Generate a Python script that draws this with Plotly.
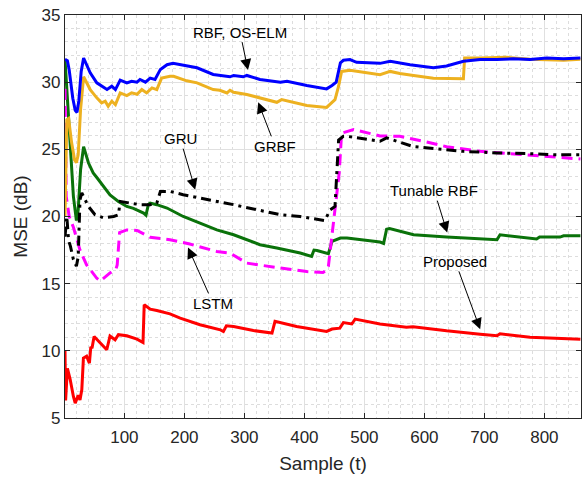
import plotly.graph_objects as go

# MSE (dB) versus sample index for each method
t_rbf = [1, 5, 8, 14, 18, 21, 24, 28, 32, 38, 43, 54, 62, 71, 79, 85, 93, 104, 112, 121, 126, 135,
         143, 151, 160, 171, 181, 193, 221, 248, 265, 276, 282, 298, 304, 326, 360, 371, 404, 437,
         446, 453, 460, 465, 476, 487, 526, 543, 576, 615, 637, 665, 693, 721, 748, 776, 804, 832, 860]
mse_rbf = [31.7, 31.6, 30.9, 28.8, 27.9, 27.75, 28.6, 30.8, 31.8, 31.2, 30.7, 29.95, 29.7, 29.45,
           29.7, 29.45, 30.15, 29.95, 30.07, 30.0, 30.2, 30.0, 30.3, 30.2, 30.95, 31.3, 31.4, 31.3,
           31.07, 30.57, 30.5, 30.4, 30.5, 30.4, 30.5, 30.2, 30.0, 30.07, 29.75, 29.5, 29.75, 30.0,
           31.44, 31.63, 31.68, 31.48, 31.4, 31.56, 31.3, 31.07, 31.2, 31.56, 31.68, 31.68, 31.74,
           31.68, 31.8, 31.74, 31.8]

t_grbf = [1, 2, 4, 7, 12, 17, 20, 23, 27, 32, 37, 43, 54, 62, 68, 73, 79, 85, 93, 104, 112, 121,
          129, 137, 146, 154, 162, 176, 182, 204, 221, 248, 259, 271, 276, 282, 304, 326, 354, 362,
          382, 404, 437, 446, 451, 457, 462, 476, 526, 543, 559, 582, 615, 665, 667, 693, 737, 776,
          832, 860]
mse_grbf = [20.0, 22.8, 27.2, 27.3, 25.5, 24.2, 24.0, 24.6, 28.0, 30.4, 30.0, 29.45, 28.83, 28.46,
            28.58, 28.2, 28.58, 28.33, 29.2, 29.0, 29.2, 29.1, 29.45, 29.2, 29.57, 29.45, 30.3,
            30.44, 30.44, 30.1, 29.95, 29.45, 29.4, 29.2, 29.4, 29.25, 29.08, 28.83, 28.5, 28.7,
            28.5, 28.26, 28.12, 28.5, 28.7, 29.7, 30.8, 30.89, 30.55, 30.8, 30.64, 30.5, 30.3,
            30.25, 31.8, 31.8, 31.85, 31.7, 31.63, 31.7]

t_tunable = [1, 5, 10, 15, 20, 23, 27, 32, 40, 48, 54, 65, 76, 90, 104, 115, 132, 136, 140, 143,
             154, 171, 198, 226, 254, 282, 310, 326, 354, 393, 412, 416, 421, 437, 440, 446, 460,
             471, 526, 532, 537, 542, 582, 637, 693, 721, 726, 787, 792, 826, 832, 860]
mse_tunable = [31.7, 28.5, 24.5, 21.5, 19.7, 20.5, 23.5, 25.2, 24.0, 23.24, 22.9, 22.24, 21.6,
               21.12, 20.75, 20.6, 20.26, 20.1, 20.9, 21.0, 20.88, 20.63, 20.0, 19.5, 19.0, 18.64,
               18.15, 17.9, 17.65, 17.28, 17.03, 17.5, 17.47, 17.28, 17.23, 18.15, 18.4, 18.4, 18.1,
               18.0, 19.05, 19.1, 18.64, 18.47, 18.32, 18.27, 18.64, 18.32, 18.47, 18.47, 18.56,
               18.56]

t_lstm = [1, 2, 3, 8, 15, 26, 37, 54, 60, 76, 86, 88, 92, 104, 108, 121, 143, 176, 209, 254, 276,
          304, 360, 404, 431, 437, 440, 453, 458, 462, 482, 526, 559, 598, 637, 693, 748, 804, 860]
mse_lstm = [29.5, 24.0, 21.5, 20.0, 19.2, 17.5, 16.4, 15.4, 15.2, 15.8, 16.1, 16.4, 18.8, 19.0,
            19.0, 18.96, 18.45, 18.27, 17.95, 17.4, 17.28, 16.53, 16.16, 15.9, 15.83, 16.0, 16.3,
            21.25, 23.24, 26.2, 26.47, 26.0, 25.97, 25.6, 25.2, 24.85, 24.68, 24.48, 24.28]

t_gru = [1, 4, 7, 10, 15, 20, 23, 26, 29, 40, 51, 65, 82, 90, 93, 110, 126, 143, 154, 160, 176,
         198, 226, 254, 282, 321, 360, 393, 434, 443, 451, 457, 465, 471, 526, 537, 582, 665, 721,
         776, 815, 860]
mse_gru = [18.5, 20.0, 18.2, 17.8, 16.8, 16.3, 17.0, 21.25, 21.75, 20.75, 20.13, 19.9, 20.0,
           20.13, 21.12, 21.0, 20.88, 20.88, 21.0, 21.87, 21.87, 21.62, 21.38, 21.12, 20.88, 20.5,
           20.13, 20.0, 19.7, 20.5, 20.75, 25.7, 25.97, 25.97, 25.6, 25.85, 25.2, 24.85, 24.73,
           24.68, 24.6, 24.6]

t_prop = [1, 2, 5, 7, 9.5, 15, 18, 23, 26, 29, 31.7, 37, 41.7, 44, 46, 49.5, 59.5, 70.6, 76, 84.5,
          90, 104, 121, 131, 133, 143, 154, 176, 193, 226, 260, 265, 270, 282, 315, 346, 351, 387,
          437, 446, 459, 465, 479, 484.5, 526, 570, 581, 637, 693, 721, 726, 776, 860]
mse_prop = [10.0, 6.3, 8.7, 8.4, 7.9, 6.6, 6.1, 6.7, 6.35, 7.1, 9.46, 9.6, 9.08, 10.3, 10.2,
            11.07, 10.57, 10.08, 11.1, 10.82, 11.2, 11.12, 10.87, 10.62, 13.43, 13.1, 13.0, 12.75,
            12.44, 11.94, 11.56, 11.44, 11.86, 11.81, 11.51, 11.32, 12.2, 11.81, 11.44, 11.62,
            11.69, 12.1, 12.0, 12.36, 12.0, 11.76, 11.8, 11.49, 11.24, 11.12, 11.27, 11.02, 10.87]

x_ticks = [100, 200, 300, 400, 500, 600, 700, 800]
y_ticks = [5, 10, 15, 20, 25, 30, 35]

LW = 3
fig = go.Figure()
fig.add_trace(go.Scatter(x=t_prop, y=mse_prop, mode="lines", name="Proposed",
                         line=dict(color="#ff0000", width=LW)))
fig.add_trace(go.Scatter(x=t_tunable, y=mse_tunable, mode="lines", name="Tunable RBF",
                         line=dict(color="#0a720a", width=LW)))
fig.add_trace(go.Scatter(x=t_lstm, y=mse_lstm, mode="lines", name="LSTM",
                         line=dict(color="#ff00ff", width=LW, dash="11px,6px")))
fig.add_trace(go.Scatter(x=t_gru, y=mse_gru, mode="lines", name="GRU",
                         line=dict(color="#000000", width=LW, dash="10px,5px,3px,5px")))
fig.add_trace(go.Scatter(x=t_grbf, y=mse_grbf, mode="lines", name="GRBF",
                         line=dict(color="#edb120", width=LW)))
fig.add_trace(go.Scatter(x=t_rbf, y=mse_rbf, mode="lines", name="RBF, OS-ELM",
                         line=dict(color="#0000ff", width=LW)))

# text labels with arrows pointing at each curve: (label, tip x, tip y, ax, ay)
labels = [
    ("RBF, OS-ELM", 306, 30.9, -8, -38),
    ("GRBF", 323, 28.5, 17, 44),
    ("GRU", 218, 22.0, -15, -51),
    ("LSTM", 206, 17.7, 25, 56),
    ("Tunable RBF", 638, 18.8, -13, -42),
    ("Proposed", 693, 11.6, -25, -68),
]
for txt, xt, yt, ax, ay in labels:
    fig.add_annotation(x=xt, y=yt, ax=ax, ay=ay, text=txt, showarrow=True,
                       arrowhead=2, arrowsize=2.2, arrowwidth=1, arrowcolor="#000000",
                       font=dict(family="Liberation Sans, Arial", size=15, color="#000000"))

axis_font = dict(family="Liberation Sans, Arial", size=17, color="#262626")
title_font = dict(family="Liberation Sans, Arial", size=19, color="#262626")

fig.update_xaxes(range=[1, 861], tickvals=x_ticks, ticktext=[str(v) for v in x_ticks],
                 ticks="inside", ticklen=5, tickcolor="#262626", mirror="ticks",
                 showline=True, linecolor="#262626", linewidth=1.2,
                 showgrid=True, gridcolor="#e0e0e0", gridwidth=1,
                 minor=dict(dtick=20, tick0=0, showgrid=True, gridcolor="#dddddd",
                            griddash="dot", gridwidth=1),
                 tickfont=axis_font, zeroline=False, ticklabelstandoff=3,
                 title=dict(text="Sample (t)", font=title_font, standoff=11))
fig.update_yaxes(range=[5, 35], tickvals=y_ticks, ticktext=[str(v) for v in y_ticks],
                 ticks="inside", ticklen=5, tickcolor="#262626", mirror="ticks",
                 showline=True, linecolor="#262626", linewidth=1.2,
                 showgrid=True, gridcolor="#e0e0e0", gridwidth=1,
                 minor=dict(dtick=1, tick0=0, showgrid=True, gridcolor="#dddddd",
                            griddash="dot", gridwidth=1),
                 tickfont=axis_font, zeroline=False,
                 title=dict(text="MSE (dB)", font=title_font, standoff=8))

fig.update_layout(width=582, height=477, margin=dict(l=65, r=1, t=15, b=59),
                  paper_bgcolor="white", plot_bgcolor="white", showlegend=False)

fig.write_html("out.html")
